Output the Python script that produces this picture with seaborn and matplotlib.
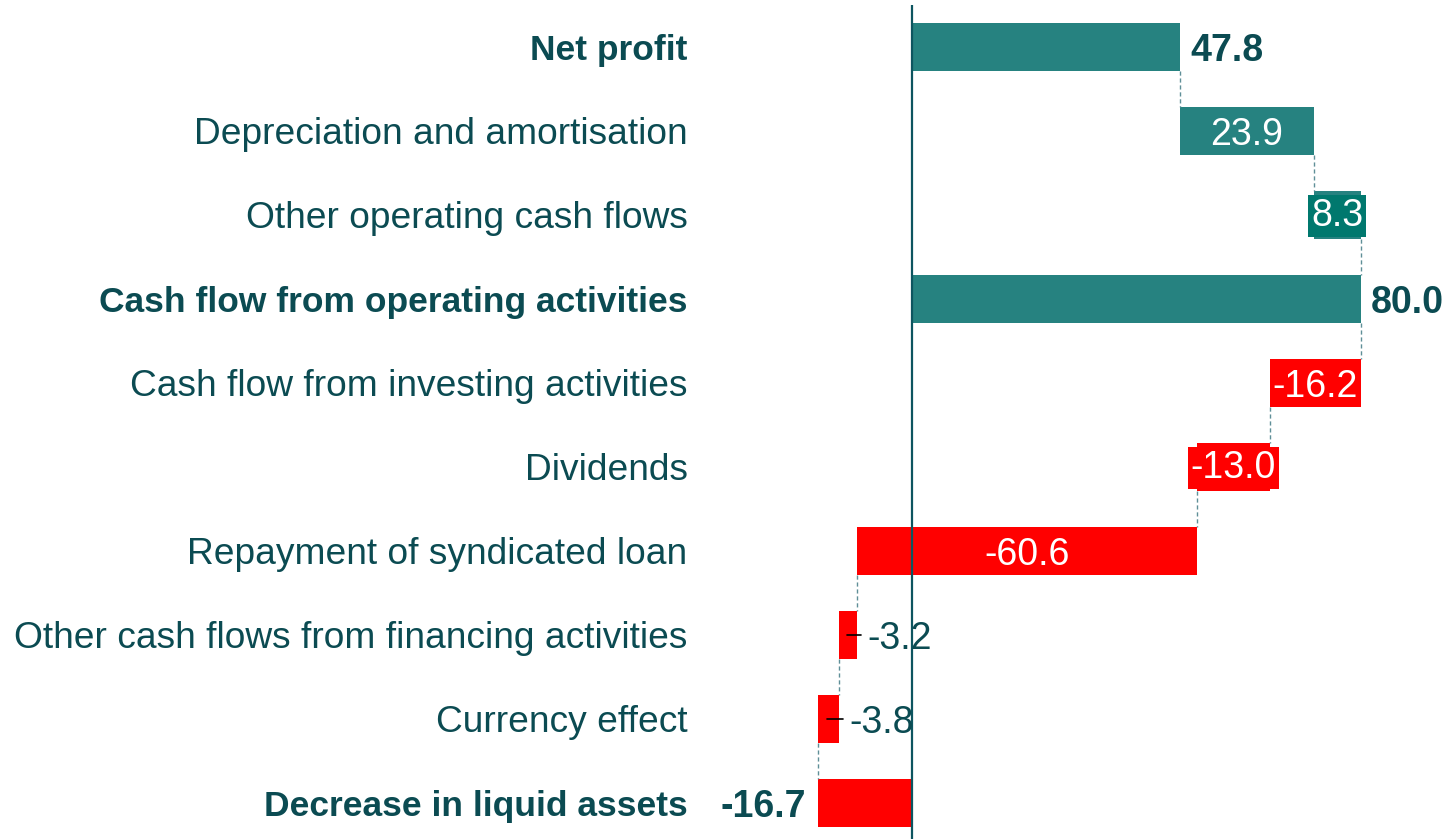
import numpy as np
import pandas as pd
import matplotlib
matplotlib.use("Agg")
import matplotlib.pyplot as plt
import seaborn as sns

categories = ["Net profit", "Depreciation and amortisation", "Other operating cash flows",
              "Cash flow from operating activities", "Cash flow from investing activities",
              "Dividends", "Repayment of syndicated loan",
              "Other cash flows from financing activities", "Currency effect",
              "Decrease in liquid assets"]
values = [47.8, 23.9, 8.3, 80.0, -16.2, -13.0, -60.6, -3.2, -3.8, -16.7]
is_total = [True, False, False, True, False, False, False, False, False, True]
labels = ["47.8", "23.9", "8.3", "80.0", "-16.2", "-13.0", "-60.6", "-3.2", "-3.8", "-16.7"]

TEAL = "#268280"
RED = "#ff0000"
TXT = "#0b4b52"

# running positions
lefts, rights = [], []
run = 0.0
for v, t in zip(values, is_total):
    if t:
        l, r = 0.0, v
        run = v
    else:
        l, r = run, run + v
        run = run + v
    lefts.append(min(l, r))
    rights.append(max(l, r))
widths = [r - l for l, r in zip(lefts, rights)]

df = pd.DataFrame({"cat": categories, "w": widths})

sns.set_theme(style="white")
plt.rcParams["font.family"] = ["Liberation Sans", "DejaVu Sans"]

fig = plt.figure(figsize=(14.45, 8.39), dpi=100)
ax = fig.add_axes([700 / 1445, 0, 745 / 1445, 1])

sns.barplot(data=df, x="w", y="cat", order=categories, orient="h", width=0.56,
            left=lefts, color=TEAL, linewidth=0, ax=ax, errorbar=None)
for p, v in zip(ax.patches, values):
    p.set_facecolor(TEAL if v >= 0 else RED)
    p.set_edgecolor("none")

px = 5.607
ax.set_xlim((700 - 912) / px, (1445 - 912) / px)
ax.set_ylim((839 - 47) / 84, -47 / 84)

# zero line
ax.vlines(0, -0.5, (839 - 47) / 84, color="#0d5560", lw=1.6, zorder=1)

# connectors
h = 0.56
ends = []
run = 0.0
for v, t in zip(values, is_total):
    run = v if t else run + v
    ends.append(run)
for i in range(len(values) - 1):
    x = ends[i]
    ax.vlines(x, i + h / 2, i + 1 - h / 2, color="#5f8f98", lw=1, linestyles=(0, (3, 2)), zorder=3)

# value labels
fs = 27
for i, (v, t, lab) in enumerate(zip(values, is_total, labels)):
    l, r = lefts[i], rights[i]
    color = TEAL if v >= 0 else RED
    if t:
        if v >= 0:
            ax.text(r + 10 / px, i, lab, ha="left", va="center_baseline", fontsize=fs,
                    fontweight="bold", color=TXT)
        else:
            ax.text(l - 12 / px, i, lab, ha="right", va="center_baseline", fontsize=fs,
                    fontweight="bold", color=TXT)
    elif widths[i] < 5:
        ax.plot([(l + r) / 2 - 1 / px, r + 4 / px], [i, i], color="black", lw=1.2, zorder=4)
        ax.text(r + 10 / px, i, lab, ha="left", va="center_baseline", fontsize=fs, color=TXT)
    elif widths[i] < 15:
        fc = "#00786e" if v > 0 else color
        ax.annotate(lab, ((l + r) / 2, i), xytext=(0, -0.5), textcoords="offset pixels",
                    ha="center", va="center", fontsize=fs, color="white", zorder=5,
                    bbox=dict(boxstyle="square,pad=0.08", facecolor=fc, edgecolor="none"))
    else:
        ax.text((l + r) / 2, i, lab, ha="center", va="center_baseline", fontsize=fs,
                color="white", zorder=5)

ax.set_xlabel("")
ax.set_ylabel("")
ax.set_xticks([])
ax.set_yticks(range(len(categories)))
ax.set_yticklabels(categories)
ax.tick_params(axis="y", length=0, pad=9, labelcolor=TXT)
for tl, t in zip(ax.get_yticklabels(), is_total):
    if t:
        tl.set_fontweight("bold")
        tl.set_fontsize(25.5)
    else:
        tl.set_fontsize(26.7)
for s in ax.spines.values():
    s.set_visible(False)
ax.set_facecolor("white")

fig.savefig("out.png", dpi=100, facecolor="white")
